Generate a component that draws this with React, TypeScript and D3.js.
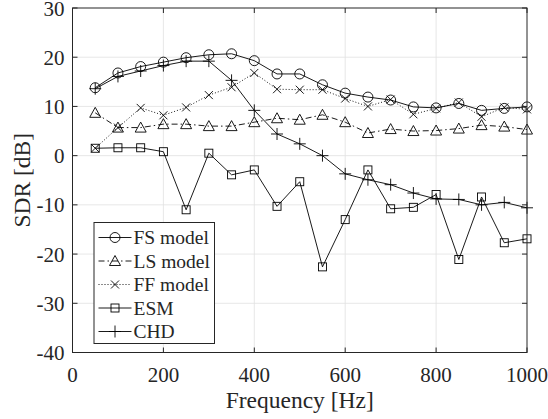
import React from "react";
import * as d3 from "d3";

// frequency points (Hz)
const freqs = [50, 100, 150, 200, 250, 300, 350, 400, 450, 500, 550, 600, 650, 700, 750, 800, 850, 900, 950, 1000];

// SDR values in dB
const fsModel = [13.8, 16.8, 18.1, 19.0, 19.9, 20.5, 20.7, 19.3, 16.6, 16.6, 14.4, 12.7, 11.9, 11.3, 9.9, 9.7, 10.6, 9.2, 9.6, 9.9];
const lsModel = [8.7, 5.7, 5.7, 6.4, 6.4, 6.0, 6.0, 6.8, 7.6, 7.3, 8.3, 6.8, 4.6, 5.4, 5.0, 5.1, 5.5, 6.2, 5.9, 5.3];
const ffModel = [1.5, 5.7, 9.7, 8.2, 9.8, 12.3, 13.9, 16.8, 13.5, 13.4, 13.4, 11.6, 10.0, 11.4, 8.4, 9.6, 10.8, 7.9, 9.8, 9.4];
const esm = [1.5, 1.6, 1.6, 0.8, -11.0, 0.5, -3.9, -2.9, -10.3, -5.3, -22.6, -13.0, -2.9, -10.8, -10.5, -7.9, -21.1, -8.4, -17.7, -16.9];
const chd = [13.6, 16.1, 17.2, 18.3, 19.2, 19.2, 15.3, 9.2, 4.4, 2.4, 0.0, -3.7, -4.9, -5.9, -7.6, -8.8, -8.9, -10.0, -9.5, -10.6];

const xTicks = [0, 200, 400, 600, 800, 1000];
const yTicks = [-40, -30, -20, -10, 0, 10, 20, 30];

const series = [
  { name: "FS model", values: fsModel, marker: "circle", dash: "none" },
  { name: "LS model", values: lsModel, marker: "triangle", dash: "6,3,1.5,3" },
  { name: "FF model", values: ffModel, marker: "x", dash: "1,2" },
  { name: "ESM", values: esm, marker: "square", dash: "none" },
  { name: "CHD", values: chd, marker: "plus", dash: "none" },
];

const W = 548;
const H = 419;
const left = 72.5, right = 527, top = 8, bottom = 352.5;
const font = "Liberation Serif, Times New Roman, DejaVu Serif, serif";
const textColor = "#262626";

const x = d3.scaleLinear().domain([0, 1000]).range([left, right]);
const y = d3.scaleLinear().domain([-40, 30]).range([bottom, top]);

const Marker = ({ type, cx, cy }: { type: string; cx: number; cy: number }) => {
  const st = { fill: "none", stroke: "#000", strokeWidth: 0.9 };
  if (type === "circle") return <circle cx={cx} cy={cy} r={5} {...st} />;
  if (type === "triangle")
    return <path d={`M${cx},${cy - 5.5}L${cx + 5.5},${cy + 4.5}L${cx - 5.5},${cy + 4.5}Z`} {...st} />;
  if (type === "square") return <rect x={cx - 4} y={cy - 4} width={8} height={8} {...st} />;
  if (type === "x")
    return <path d={`M${cx - 4},${cy - 4}L${cx + 4},${cy + 4}M${cx - 4},${cy + 4}L${cx + 4},${cy - 4}`} {...st} />;
  return <path d={`M${cx - 6},${cy}L${cx + 6},${cy}M${cx},${cy - 6}L${cx},${cy + 6}`} {...st} />;
};

export default function App() {
  const line = d3.line<number>().x((_, i) => x(freqs[i])).y((d) => y(d));
  const tick = 5;

  return (
    <div style={{ position: "absolute", left: 0, top: 0 }}>
      <svg width={W} height={H} style={{ display: "block", background: "#fff", fontFamily: font }}>
        <rect x={0} y={0} width={W} height={H} fill="#fff" />
        {/* grid */}
        <g stroke="#e1e1e1" strokeWidth={0.8}>
          {xTicks.slice(1, -1).map((t) => (
            <line key={"gx" + t} x1={x(t)} x2={x(t)} y1={top} y2={bottom} />
          ))}
          {yTicks.slice(1, -1).map((t) => (
            <line key={"gy" + t} x1={left} x2={right} y1={y(t)} y2={y(t)} />
          ))}
        </g>

        {/* series */}
        {series.map((s) => (
          <g key={s.name}>
            <path d={line(s.values) || ""} fill="none" stroke="#000" strokeWidth={0.9} strokeDasharray={s.dash} />
            {s.values.map((v, i) => (
              <Marker key={i} type={s.marker} cx={x(freqs[i])} cy={y(v)} />
            ))}
          </g>
        ))}

        {/* axes box and ticks */}
        <rect x={left} y={top} width={right - left} height={bottom - top} fill="none" stroke={textColor} strokeWidth={1} />
        <g stroke={textColor} strokeWidth={1}>
          {xTicks.map((t) => (
            <g key={"tx" + t}>
              <line x1={x(t)} x2={x(t)} y1={bottom} y2={bottom - tick} />
              <line x1={x(t)} x2={x(t)} y1={top} y2={top + tick} />
            </g>
          ))}
          {yTicks.map((t) => (
            <g key={"ty" + t}>
              <line x1={left} x2={left + tick} y1={y(t)} y2={y(t)} />
              <line x1={right} x2={right - tick} y1={y(t)} y2={y(t)} />
            </g>
          ))}
        </g>

        {/* tick labels */}
        <g fontSize={21} fill={textColor}>
          {xTicks.map((t) => (
            <text key={"lx" + t} x={x(t)} y={bottom + 29} textAnchor="middle">
              {t}
            </text>
          ))}
          {yTicks.map((t) => (
            <text key={"ly" + t} x={left - 8} y={y(t) + 7.5} textAnchor="end">
              {t}
            </text>
          ))}
        </g>

        {/* axis labels */}
        <text x={(left + right) / 2} y={408} textAnchor="middle" fontSize={23.5} fill={textColor}>
          Frequency [Hz]
        </text>
        <text
          transform={`translate(30,${(top + bottom) / 2}) rotate(-90)`}
          textAnchor="middle"
          fontSize={23.5}
          fill={textColor}
        >
          SDR [dB]
        </text>

        {/* legend */}
        <g>
          <rect x={94} y={222.5} width={120.5} height={121} fill="#fff" stroke={textColor} strokeWidth={1} />
          {series.map((s, i) => {
            const ly = 237.5 + i * 23.5;
            return (
              <g key={"leg" + s.name}>
                <line x1={98.5} x2={131.5} y1={ly} y2={ly} stroke="#000" strokeWidth={0.9} strokeDasharray={s.dash} />
                <Marker type={s.marker} cx={115} cy={ly} />
                <text x={133.5} y={ly + 6.5} fontSize={19.5} fill={textColor}>
                  {s.name}
                </text>
              </g>
            );
          })}
        </g>
      </svg>
    </div>
  );
}
